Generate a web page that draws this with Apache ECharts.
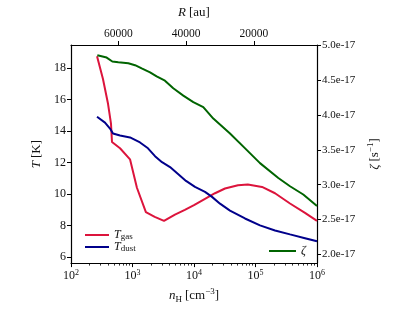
<!DOCTYPE html>
<html><head><meta charset="utf-8">
<script src="https://cdn.jsdelivr.net/npm/echarts@6/dist/echarts.min.js"></script>
<style>html,body{margin:0;padding:0;background:#fff}#c{width:397px;height:309px}</style>
</head><body><div id="c"></div>
<script>
// n_H [cm^-3] and gas temperature [K]
const nGas = [265, 331, 400, 447, 464, 627, 911, 1180, 1650, 2300, 3250, 4900, 7100, 10000, 15100, 21950, 31920, 51900, 75000, 127600, 207600, 364000, 638000, 1000000];
const tGas = [18.73, 17.29, 15.72, 14.46, 13.30, 12.90, 12.20, 10.40, 8.85, 8.55, 8.30, 8.70, 9.00, 9.30, 9.70, 10.05, 10.35, 10.56, 10.60, 10.45, 10.05, 9.40, 8.80, 8.30];
// n_H and dust temperature [K]
const nDust = [265, 357, 431, 482, 627, 911, 1325, 1786, 2323, 3020, 4075, 5500, 7415, 10380, 15100, 19630, 26480, 38470, 67420, 118300, 207600, 364000, 638000, 1000000];
const tDust = [14.90, 14.53, 14.15, 13.84, 13.71, 13.59, 13.27, 12.90, 12.40, 12.02, 11.71, 11.27, 10.83, 10.45, 10.14, 9.82, 9.39, 8.95, 8.45, 8.01, 7.69, 7.44, 7.20, 7.00];
// n_H and cosmic-ray ionisation rate zeta [s^-1]
const nZeta = [268, 380, 470, 588, 855, 1100, 1410, 1930, 2470, 3370, 4600, 6700, 9750, 14160, 20600, 38500, 63400, 118300, 235000, 364000, 598000, 1000000];
const zeta = [4.86e-17, 4.826e-17, 4.77e-17, 4.76e-17, 4.745e-17, 4.717e-17, 4.67e-17, 4.613e-17, 4.556e-17, 4.494e-17, 4.385e-17, 4.28e-17, 4.186e-17, 4.115e-17, 3.949e-17, 3.735e-17, 3.546e-17, 3.309e-17, 3.095e-17, 2.977e-17, 2.858e-17, 2.693e-17];
// tick labels
const xMajor = [1e2, 1e3, 1e4, 1e5, 1e6];
const xMinor = [];
for (let d = 2; d < 6; d++) for (let k = 2; k < 10; k++) xMinor.push(k * Math.pow(10, d));
const tTicks = [6, 8, 10, 12, 14, 16, 18];
const zTicks = [2.0e-17, 2.5e-17, 3.0e-17, 3.5e-17, 4.0e-17, 4.5e-17, 5.0e-17];
const rTicks = [20000, 40000, 60000];

const F = 'Liberation Serif';
const C = '#111';
const pairs = (a, b) => a.map((v, i) => [v, b[i]]);
const chart = echarts.init(document.getElementById('c'));
const lineAx = {show: true, lineStyle: {color: '#000', width: 1.2}};
chart.setOption({
  animation: false,
  grid: {left: 71, right: 80, top: 45, bottom: 43},
  textStyle: {fontFamily: F},
  legend: [
    {data: ['Tgas', 'Tdust'], orient: 'vertical', left: 80, top: 224, itemWidth: 24, itemHeight: 2, itemGap: 0, icon: 'rect',
     formatter: n => n === 'Tgas' ? '{i|T}{s|gas}' : '{i|T}{s|dust}',
     textStyle: {fontFamily: F, color: C, rich: {i: {fontFamily: F, fontStyle: 'italic', fontSize: 12, lineHeight: 12}, s: {fontFamily: F, fontSize: 9, verticalAlign: 'bottom', lineHeight: 8}}}},
    {data: ['zeta'], orient: 'vertical', left: 264, top: 240, itemWidth: 27, itemHeight: 2, icon: 'rect',
     formatter: () => '{i|ζ}', textStyle: {fontFamily: F, color: C, rich: {i: {fontFamily: F, fontStyle: 'italic', fontSize: 12}}}}
  ],
  xAxis: [
    {type: 'log', logBase: 10, min: 100, max: 1e6, position: 'bottom', gridIndex: 0,
     axisLine: lineAx, splitLine: {show: false},
     axisTick: {show: true, inside: false, length: 4, lineStyle: {color: '#000', width: 1}, customValues: xMajor},
     axisLabel: {customValues: xMajor, margin: 6, color: C, fontFamily: F,
       formatter: v => '{b|10}{s|' + Math.round(Math.log10(v)) + '}',
       rich: {b: {fontSize: 12, fontFamily: F, color: C}, s: {fontSize: 8, fontFamily: F, color: C, verticalAlign: 'top', padding: [0, 0, 6, 0]}}},
     name: '{i|n}{s|H} {r|[cm}{p|−3}{r|]}', nameLocation: 'middle', nameGap: 22,
     nameTextStyle: {color: C, rich: {i: {fontFamily: F, fontStyle: 'italic', fontSize: 13}, s: {fontFamily: F, fontSize: 9, verticalAlign: 'bottom', padding: [5, 0, 0, 0]}, r: {fontFamily: F, fontSize: 13}, p: {fontFamily: F, fontSize: 9, padding: [0, 0, 8, 0]}}}},
    {type: 'log', logBase: 10, min: 100, max: 1e6, position: 'bottom', gridIndex: 0,
     axisLine: {show: false}, splitLine: {show: false}, axisLabel: {show: false},
     axisTick: {show: true, inside: false, length: 2.5, lineStyle: {color: '#000', width: 0.8}, customValues: xMinor}},
    {type: 'value', min: 1386, max: 73950, inverse: true, position: 'top', gridIndex: 0,
     axisLine: lineAx, splitLine: {show: false},
     axisTick: {show: true, inside: false, length: 4, lineStyle: {color: '#000', width: 1}, customValues: rTicks},
     axisLabel: {customValues: rTicks, margin: 5, fontSize: 11.5, color: C, fontFamily: F, formatter: v => String(Math.round(v))},
     name: '{i|R} {r|[au]}', nameLocation: 'middle', nameGap: 26,
     nameTextStyle: {color: C, rich: {i: {fontFamily: F, fontStyle: 'italic', fontSize: 13}, r: {fontFamily: F, fontSize: 13}}}}
  ],
  yAxis: [
    {type: 'value', min: 5.62, max: 19.45, position: 'left',
     axisLine: lineAx, splitLine: {show: false},
     axisTick: {show: true, inside: false, length: 4, lineStyle: {color: '#000', width: 1}, customValues: tTicks},
     axisLabel: {customValues: tTicks, margin: 5, fontSize: 12, color: C, fontFamily: F},
     name: '{i|T} {r|[K]}', nameLocation: 'middle', nameGap: 24, nameRotate: 90,
     nameTextStyle: {color: C, rich: {i: {fontFamily: F, fontStyle: 'italic', fontSize: 13}, r: {fontFamily: F, fontSize: 13}}}},
    {type: 'value', min: 1.872e-17, max: 5.007e-17, position: 'right',
     axisLine: lineAx, splitLine: {show: false},
     axisTick: {show: true, inside: false, length: 4, lineStyle: {color: '#000', width: 1}, customValues: zTicks},
     axisLabel: {customValues: zTicks, margin: 5, fontSize: 11, color: C, fontFamily: F, formatter: v => v.toExponential(1)},
     name: '{i|ζ} {r|[s}{p|−1}{r|]}', nameLocation: 'middle', nameGap: 47, nameRotate: 90,
     nameTextStyle: {color: C, rich: {i: {fontFamily: F, fontStyle: 'italic', fontSize: 13}, r: {fontFamily: F, fontSize: 13}, p: {fontFamily: F, fontSize: 9, padding: [0, 0, 8, 0]}}}}
  ],
  series: [
    {name: 'Tgas', type: 'line', xAxisIndex: 0, yAxisIndex: 0, data: pairs(nGas, tGas), showSymbol: false, symbol: 'none', color: '#dc143c', lineStyle: {width: 2, color: '#dc143c'}},
    {name: 'Tdust', type: 'line', xAxisIndex: 0, yAxisIndex: 0, data: pairs(nDust, tDust), showSymbol: false, symbol: 'none', color: '#00008b', lineStyle: {width: 2, color: '#00008b'}},
    {name: 'zeta', type: 'line', xAxisIndex: 0, yAxisIndex: 1, data: pairs(nZeta, zeta), showSymbol: false, symbol: 'none', color: '#006400', lineStyle: {width: 2, color: '#006400'}}
  ]
});
</script></body></html>
